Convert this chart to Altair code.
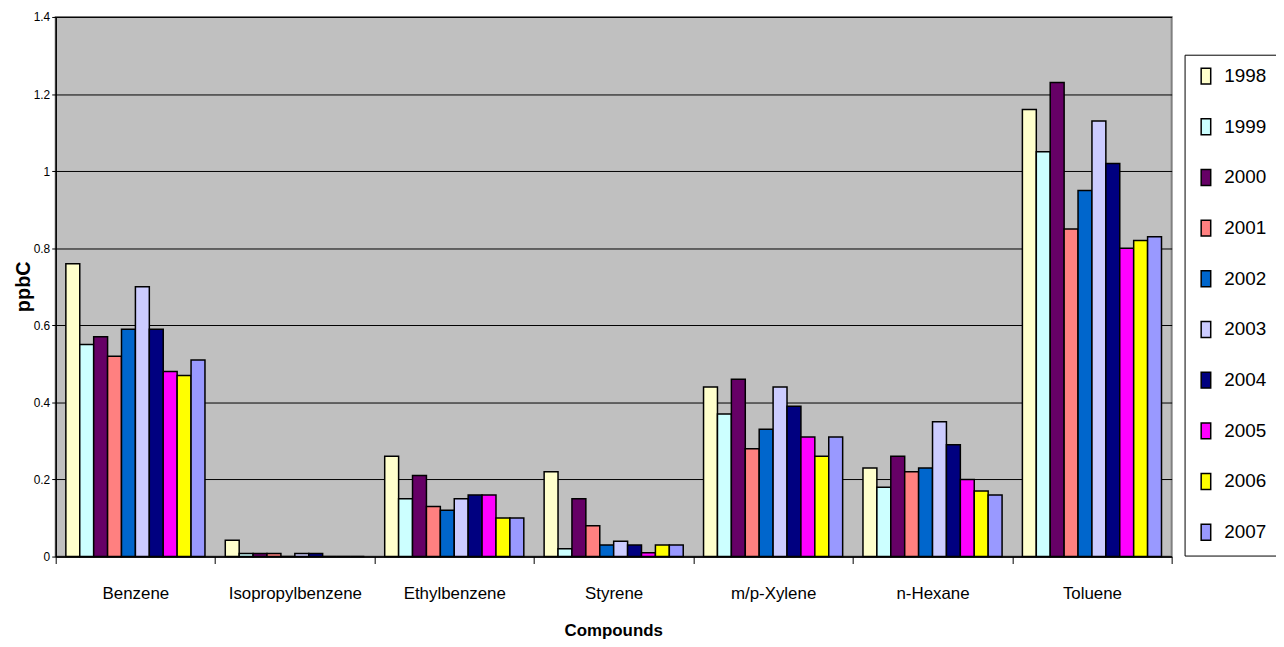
import altair as alt
import pandas as pd

years = ["1998", "1999", "2000", "2001", "2002", "2003", "2004", "2005", "2006", "2007"]
colors = ["#FFFFCC", "#CCFFFF", "#660066", "#FF8080", "#0066CC",
          "#CCCCFF", "#000080", "#FF00FF", "#FFFF00", "#9999FF"]
compounds = ["Benzene", "Isopropylbenzene", "Ethylbenzene", "Styrene",
             "m/p-Xylene", "n-Hexane", "Toluene"]

benzene = [0.76, 0.55, 0.57, 0.52, 0.59, 0.70, 0.59, 0.48, 0.47, 0.51]
isopropylbenzene = [0.042, 0.008, 0.008, 0.008, 0.0, 0.008, 0.008, 0.0, 0.0, 0.0]
ethylbenzene = [0.26, 0.15, 0.21, 0.13, 0.12, 0.15, 0.16, 0.16, 0.10, 0.10]
styrene = [0.22, 0.02, 0.15, 0.08, 0.03, 0.04, 0.03, 0.01, 0.03, 0.03]
mp_xylene = [0.44, 0.37, 0.46, 0.28, 0.33, 0.44, 0.39, 0.31, 0.26, 0.31]
n_hexane = [0.23, 0.18, 0.26, 0.22, 0.23, 0.35, 0.29, 0.20, 0.17, 0.16]
toluene = [1.16, 1.05, 1.23, 0.85, 0.95, 1.13, 1.02, 0.80, 0.82, 0.83]

y_ticks = [0, 0.2, 0.4, 0.6, 0.8, 1.0, 1.2, 1.4]

series = [benzene, isopropylbenzene, ethylbenzene, styrene, mp_xylene, n_hexane, toluene]
rows = []
for comp, vals in zip(compounds, series):
    for yr, v in zip(years, vals):
        rows.append({"compound": comp, "year": yr, "value": v})
df = pd.DataFrame(rows)

SANS = "Liberation Sans, Arial, sans-serif"

chart = alt.Chart(df).mark_bar(stroke="black", strokeWidth=1.5).encode(
    x=alt.X("compound:N", sort=compounds,
            scale=alt.Scale(paddingInner=0, paddingOuter=0),
            axis=alt.Axis(title="Compounds", labelAngle=0, tickBand="extent",
                          tickSize=7, tickColor="black", domainColor="black",
                          domainWidth=1.5, labelFont=SANS, labelFontSize=17,
                          labelColor="black", labelBaseline="alphabetic",
                          labelPadding=35, grid=False,
                          titleFont=SANS, titleFontSize=17, titleFontWeight="bold",
                          titleColor="black", titleBaseline="alphabetic",
                          titleY=79, titleX=561)),
    xOffset=alt.XOffset("year:N", sort=years,
                        scale=alt.Scale(paddingInner=0, paddingOuter=0.73)),
    y=alt.Y("value:Q", scale=alt.Scale(domain=[0, 1.4], nice=False),
            axis=alt.Axis(title="ppbC", values=y_ticks, format="~g",
                          tickSize=4, tickColor="black", domainColor="black",
                          domainWidth=1.5, labelFont=SANS, labelFontSize=12,
                          labelColor="black", labelPadding=2,
                          grid=True, gridColor="black", gridWidth=1,
                          titleFont=SANS, titleFontSize=20, titleFontWeight="bold",
                          titleColor="black", titleAngle=270,
                          titleBaseline="middle", titleAlign="center",
                          titleX=-32, titleY=271)),
    color=alt.Color("year:N", sort=years,
                    scale=alt.Scale(domain=years, range=colors),
                    legend=alt.Legend(title=None, orient="none", legendX=1136, legendY=38,
                                      padding=12, strokeColor="black", fillColor="white",
                                      rowPadding=28, labelFont=SANS, labelFontSize=19,
                                      labelColor="black", labelOffset=9,
                                      symbolType="M-0.6,-1H0.6V1H-0.6Z", symbolSize=256,
                                      symbolStrokeColor="black", symbolStrokeWidth=1.5,
                                      symbolOpacity=1)),
).properties(
    width=1123, height=543,
    autosize=alt.AutoSizeParams(type="none"),
    padding={"left": 48, "top": 7, "right": 105, "bottom": 89},
).configure_view(
    fill="#C0C0C0", stroke="#808080", strokeWidth=2
)

chart.save("out.html", embed_options={"renderer": "svg", "actions": False})
